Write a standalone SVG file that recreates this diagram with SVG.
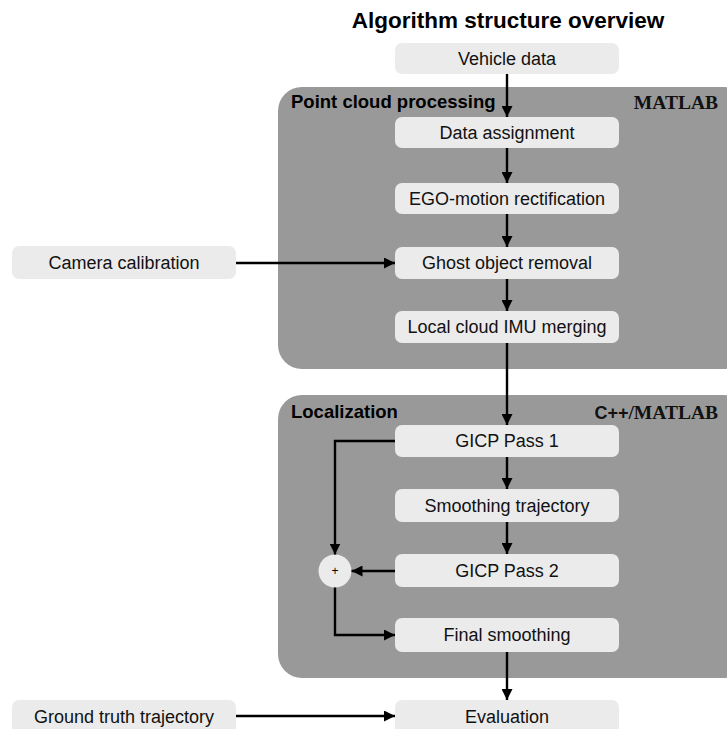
<svg xmlns="http://www.w3.org/2000/svg" width="727" height="729" viewBox="0 0 727 729">
  <defs>
    <marker id="arrow" viewBox="0 0 10 10" refX="10" refY="5" markerWidth="11" markerHeight="11" markerUnits="userSpaceOnUse" orient="auto">
      <path d="M0,0 L10,5 L0,10 z" fill="#000"/>
    </marker>
    <style>
      .group { fill: #999999; }
      .box { fill: #ebebeb; }
      .label { font-family: "Liberation Sans", Arial, sans-serif; font-size: 18px; fill: #111; text-anchor: middle; }
      .glabel { font-family: "Liberation Sans", Arial, sans-serif; font-size: 18.5px; font-weight: bold; fill: #000; }
      .tool { font-family: "Liberation Serif", "Times New Roman", serif; font-size: 19.5px; font-weight: bold; fill: #111; text-anchor: end; }
      .title { font-family: "Liberation Sans", Arial, sans-serif; font-size: 22.5px; font-weight: bold; fill: #000; text-anchor: middle; }
      .conn { fill: none; stroke: #000; stroke-width: 2.4; marker-end: url(#arrow); }
    </style>
  </defs>

  <rect width="727" height="729" fill="#fff"/>

  <text class="title" x="508" y="28">Algorithm structure overview</text>

  <!-- processing stages -->
  <g id="stage-point-cloud">
    <rect class="group" x="278" y="87" width="470" height="282" rx="24"/>
    <text class="glabel" x="291" y="108">Point cloud processing</text>
    <text class="tool" x="718" y="109">MATLAB</text>
  </g>
  <g id="stage-localization">
    <rect class="group" x="278" y="395" width="470" height="283" rx="24"/>
    <text class="glabel" x="291" y="418">Localization</text>
    <text class="tool" x="718" y="419"><tspan font-family="Liberation Sans, Arial, sans-serif" font-size="18">C++</tspan>/MATLAB</text>
  </g>

  <!-- nodes -->
  <g id="vehicle-data">
    <rect class="box" x="395" y="43" width="224" height="31" rx="7"/>
    <text class="label" x="507" y="65">Vehicle data</text>
  </g>
  <g id="data-assignment">
    <rect class="box" x="395" y="117" width="224" height="31" rx="7"/>
    <text class="label" x="507" y="139">Data assignment</text>
  </g>
  <g id="ego-motion">
    <rect class="box" x="395" y="183" width="224" height="31" rx="7"/>
    <text class="label" x="507" y="205">EGO-motion rectification</text>
  </g>
  <g id="ghost-removal">
    <rect class="box" x="395" y="247" width="224" height="32" rx="7"/>
    <text class="label" x="507" y="269">Ghost object removal</text>
  </g>
  <g id="imu-merging">
    <rect class="box" x="395" y="311" width="224" height="32" rx="7"/>
    <text class="label" x="507" y="333">Local cloud IMU merging</text>
  </g>
  <g id="camera-calibration">
    <rect class="box" x="12" y="246" width="224" height="33" rx="7"/>
    <text class="label" x="124" y="269">Camera calibration</text>
  </g>
  <g id="gicp-pass-1">
    <rect class="box" x="395" y="425" width="224" height="32" rx="7"/>
    <text class="label" x="507" y="447">GICP Pass 1</text>
  </g>
  <g id="smoothing-trajectory">
    <rect class="box" x="395" y="489" width="224" height="33" rx="7"/>
    <text class="label" x="507" y="512">Smoothing trajectory</text>
  </g>
  <g id="gicp-pass-2">
    <rect class="box" x="395" y="554" width="224" height="33" rx="7"/>
    <text class="label" x="507" y="577">GICP Pass 2</text>
  </g>
  <g id="sum">
    <circle cx="335" cy="571" r="16.5" fill="#ebebeb"/>
    <text x="335" y="575" font-family="Liberation Sans, Arial, sans-serif" font-size="12" text-anchor="middle" fill="#000">+</text>
  </g>
  <g id="final-smoothing">
    <rect class="box" x="395" y="618" width="224" height="34" rx="7"/>
    <text class="label" x="507" y="641">Final smoothing</text>
  </g>
  <g id="ground-truth">
    <rect class="box" x="12" y="700" width="224" height="40" rx="7"/>
    <text class="label" x="124" y="723">Ground truth trajectory</text>
  </g>
  <g id="evaluation">
    <rect class="box" x="395" y="700" width="224" height="40" rx="7"/>
    <text class="label" x="507" y="723">Evaluation</text>
  </g>

  <!-- connectors -->
  <g id="connectors">
    <path class="conn" d="M507,74 V117"/>
    <path class="conn" d="M507,148 V183"/>
    <path class="conn" d="M507,214 V247"/>
    <path class="conn" d="M507,279 V311"/>
    <path class="conn" d="M236,263 H395"/>
    <path class="conn" d="M507,343 V425"/>
    <path class="conn" d="M507,457 V489"/>
    <path class="conn" d="M507,522 V554"/>
    <path class="conn" d="M395,441 H335 V554.5"/>
    <path class="conn" d="M395,571 H351.5"/>
    <path class="conn" d="M335,587.5 V635 H395"/>
    <path class="conn" d="M507,652 V700"/>
    <path class="conn" d="M236,716 H395"/>
  </g>
</svg>
